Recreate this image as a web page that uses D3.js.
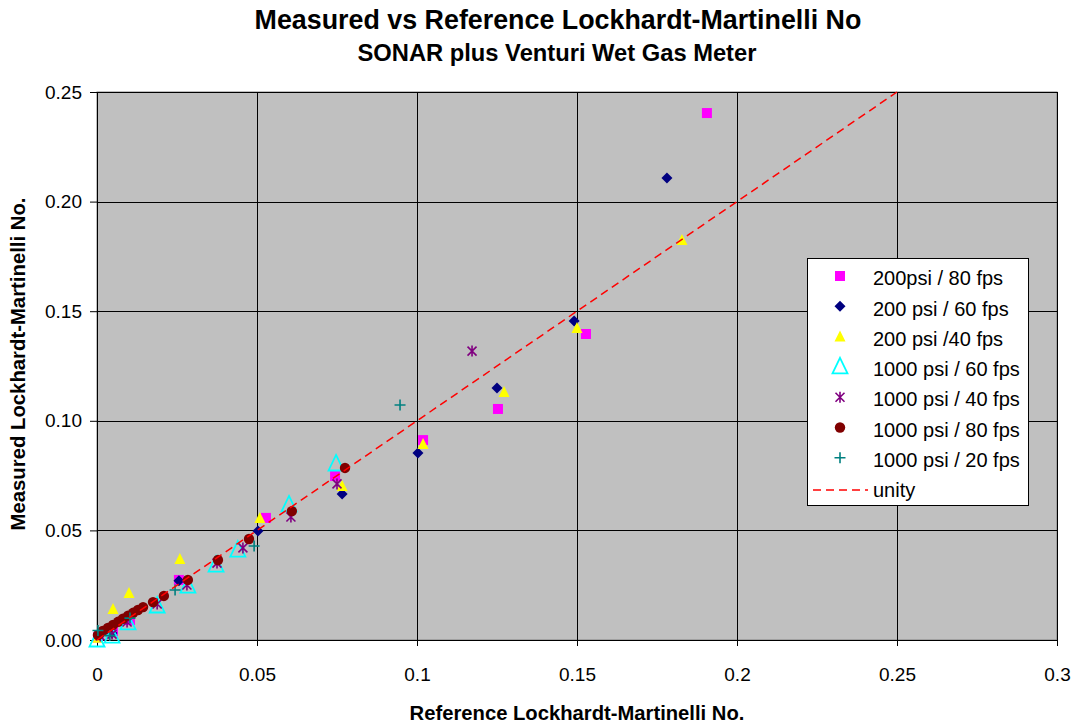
<!DOCTYPE html>
<html><head><meta charset="utf-8">
<script src="https://cdn.jsdelivr.net/npm/d3@7"></script>
<style>body{margin:0;background:#fff;} svg{display:block;font-family:"Liberation Sans",Arial,sans-serif;}</style>
</head><body><svg id="c" width="1074" height="724"></svg>
<script>
const xTicks = [0, 0.05, 0.1, 0.15, 0.2, 0.25, 0.3];
const yTicks = [0, 0.05, 0.1, 0.15, 0.2, 0.25];
const xTickLabels = ["0", "0.05", "0.1", "0.15", "0.2", "0.25", "0.3"];
const yTickLabels = ["0.00", "0.05", "0.10", "0.15", "0.20", "0.25"];

const seriesNames = ["200psi / 80 fps", "200 psi / 60 fps", "200 psi /40 fps", "1000 psi / 60 fps",
  "1000 psi / 40 fps", "1000 psi / 80 fps", "1000 psi / 20 fps"];

const s200_80 = [[0.1906,0.2404],[0.1528,0.1396],[0.1253,0.1054],[0.1019,0.0912],[0.0744,0.0748],
  [0.0528,0.0557],[0.0256,0.0274],[0.0103,0.0091],[0.0003,0.0012],[0.005,0.004]];
const s200_60 = [[0.1781,0.2108],[0.1491,0.1455],[0.125,0.115],[0.1003,0.0853],[0.0766,0.0666],
  [0.0503,0.0497],[0.0256,0.027],[0.0047,0.0032],[0.0005,0.0015]];
const s200_40 = [[0.1828,0.1825],[0.15,0.1423],[0.1272,0.1131],[0.1019,0.0894],[0.0766,0.0703],
  [0.0509,0.0557],[0.0259,0.037],[0.01,0.0214],[0.005,0.0141],[0.0003,0.001]];
const s1000_60 = [[0.0747,0.0803],[0.06,0.0616],[0.044,0.041],[0.0372,0.0342],[0.0284,0.0246],
  [0.0188,0.0155],[0.0097,0.0078],[0.0047,0.0018],[0.0,0.0]];
const s1000_40 = [[0.1172,0.1318],[0.075,0.0712],[0.0606,0.0561],[0.0456,0.042],[0.0375,0.0351],
  [0.0281,0.0251],[0.0188,0.0164],[0.0094,0.0082],[0.0047,0.0027],[0.001,0.0018]];
const s1000_80 = [[0.0775,0.0785],[0.0609,0.0588],[0.0475,0.0461],[0.0378,0.0365],[0.0284,0.0274],
  [0.0209,0.0201],[0.0175,0.0173],[0.0144,0.015],[0.0128,0.0137],[0.0113,0.0124],[0.0097,0.0111],
  [0.0081,0.0097],[0.0066,0.0083],[0.005,0.0069],[0.0034,0.0055],[0.0018,0.0041],[0.0003,0.0023]];
const s1000_20 = [[0.0947,0.1072],[0.0491,0.0429],[0.0244,0.0228],[0.0103,0.01],[0.004,0.002],[0.0003,0.0043]];
const unity = [[0, 0], [0.25, 0.25]];

const seriesData = [s200_80, s200_60, s200_40, s1000_60, s1000_40, s1000_80, s1000_20];
const colors = ["#FF00FF", "#000080", "#FFFF00", "#00FFFF", "#800080", "#800000", "#008080"];
const shapes = ["square", "diamond", "triangle", "otriangle", "star", "circle", "plus"];

const svg = d3.select("#c");
const L = 97, R = 1057, T = 92, B = 640;
const x = d3.scaleLinear().domain([0, 0.3]).range([L, R]);
const y = d3.scaleLinear().domain([0, 0.25]).range([B, T]);

// fit text to a target width
function fit(sel, w) {
  const n = sel.node();
  const fs = parseFloat(sel.attr("font-size"));
  const cur = n.getComputedTextLength();
  if (cur > 0) sel.attr("font-size", (fs * w / cur).toFixed(2));
  return sel;
}

svg.append("rect").attr("x", L).attr("y", T).attr("width", R - L).attr("height", B - T)
  .attr("fill", "#C0C0C0").attr("stroke", "#808080");

// gridlines
const g = svg.append("g").attr("shape-rendering", "crispEdges");
g.selectAll(".vg").data(xTicks.slice(1)).join("line")
  .attr("x1", d => Math.round(x(d)) + 0.5).attr("x2", d => Math.round(x(d)) + 0.5)
  .attr("y1", T).attr("y2", B).attr("stroke", "#000");
g.selectAll(".hg").data(yTicks.slice(1)).join("line")
  .attr("y1", d => Math.round(y(d)) + 0.5).attr("y2", d => Math.round(y(d)) + 0.5)
  .attr("x1", L).attr("x2", R).attr("stroke", "#000");

// axes
const xAxis = d3.axisBottom(x).tickValues(xTicks).tickFormat((d, i) => xTickLabels[i]).tickSize(6).tickSizeOuter(0);
const yAxis = d3.axisLeft(y).tickValues(yTicks).tickFormat((d, i) => yTickLabels[i]).tickSize(7).tickSizeOuter(0);
const gx = svg.append("g").attr("transform", `translate(0,${B})`).call(xAxis);
const gy = svg.append("g").attr("transform", `translate(${L},0)`).call(yAxis);
[gx, gy].forEach(a => {
  a.select(".domain").attr("stroke", "#000");
  a.selectAll(".tick line").attr("stroke", "#000");
  a.selectAll("text").attr("font-size", 19).attr("fill", "#000").attr("font-family", "Liberation Sans, Arial, sans-serif");
});
gx.selectAll("text").attr("y", 34).attr("dy", "0.36em");
gy.selectAll("text").attr("x", -15);

// marker drawing
function marker(sel, shape, color, cx, cy) {
  const gg = sel.append("g").attr("transform", `translate(${cx},${cy})`);
  if (shape === "square") gg.append("rect").attr("x", -5).attr("y", -5).attr("width", 10).attr("height", 10).attr("fill", color);
  else if (shape === "diamond") gg.append("path").attr("d", "M0,-5.5L5.5,0L0,5.5L-5.5,0Z").attr("fill", color);
  else if (shape === "triangle") gg.append("path").attr("d", "M0,-6L5.5,5L-5.5,5Z").attr("fill", color);
  else if (shape === "otriangle") gg.append("path").attr("d", "M0,-9L7.5,6.5L-7.5,6.5Z").attr("fill", "none").attr("stroke", color).attr("stroke-width", 1.8);
  else if (shape === "circle") gg.append("circle").attr("r", 5.2).attr("fill", color);
  else if (shape === "star") {
    gg.append("path").attr("d", "M-4.5,-4.5L4.5,4.5M-4.5,4.5L4.5,-4.5M0,-5.5L0,5.5").attr("stroke", color).attr("stroke-width", 1.6);
  } else if (shape === "plus") {
    gg.append("path").attr("d", "M-5.5,0L5.5,0M0,-5.5L0,5.5").attr("stroke", color).attr("stroke-width", 1.6);
  }
  return gg;
}

// draw series
const pg = svg.append("g");
seriesData.forEach((data, i) => {
  const sg = pg.append("g").attr("class", "series");
  data.forEach(d => marker(sg, shapes[i], colors[i], x(d[0]), y(d[1])));
});

// unity line
const line = d3.line().x(d => x(d[0])).y(d => y(d[1]));
svg.append("path").datum(unity).attr("d", line).attr("fill", "none")
  .attr("stroke", "#FF0000").attr("stroke-width", 1.5).attr("stroke-dasharray", "8,5");

// legend
const lg = svg.append("g");
lg.append("rect").attr("x", 807.5).attr("y", 258.5).attr("width", 221).attr("height", 247)
  .attr("fill", "#fff").attr("stroke", "#000");
seriesNames.forEach((n, i) => {
  const cy = 278 + i * 30.3;
  marker(lg, shapes[i], colors[i], 840, cy - 2);
  lg.append("text").attr("x", 873).attr("y", cy).attr("dy", "0.36em").attr("font-size", 20).text(n);
});
lg.append("line").attr("x1", 813).attr("x2", 868).attr("y1", 490).attr("y2", 490)
  .attr("stroke", "#FF0000").attr("stroke-width", 1.5).attr("stroke-dasharray", "8,5");
lg.append("text").attr("x", 873).attr("y", 490).attr("dy", "0.36em").attr("font-size", 20).text("unity");

// titles
fit(svg.append("text").attr("x", 558).attr("y", 29).attr("text-anchor", "middle")
  .attr("font-size", 21).attr("font-weight", "bold").text("Measured vs Reference Lockhardt-Martinelli No"), 607);
fit(svg.append("text").attr("x", 557).attr("y", 61).attr("text-anchor", "middle")
  .attr("font-size", 17).attr("font-weight", "bold").text("SONAR plus Venturi Wet Gas Meter"), 399);
fit(svg.append("text").attr("x", 577).attr("y", 720).attr("text-anchor", "middle")
  .attr("font-size", 16).attr("font-weight", "bold").text("Reference Lockhardt-Martinelli No."), 335);
fit(svg.append("text").attr("transform", "translate(25,364) rotate(-90)").attr("text-anchor", "middle")
  .attr("font-size", 16).attr("font-weight", "bold").text("Measured Lockhardt-Martinelli No."), 333);
</script></body></html>
